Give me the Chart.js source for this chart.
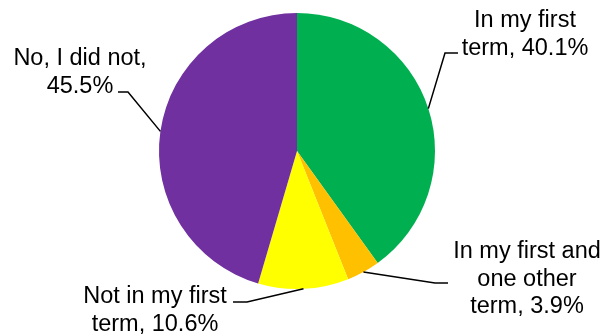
<!DOCTYPE html>
<html>
<head>
<meta charset="utf-8">
<script src="https://cdn.jsdelivr.net/npm/chart.js@4/dist/chart.umd.min.js"></script>
<style>
  html, body { margin: 0; padding: 0; background: #fff; }
  #wrap { width: 605px; height: 334px; }
</style>
</head>
<body>
<div id="wrap"><canvas id="pie"></canvas></div>
<script>
// data
const categories = ['In my first term', 'In my first and one other term', 'Not in my first term', 'No, I did not'];
const percents = [40.1, 3.9, 10.6, 45.5];
const sliceColors = ['#00B050', '#FFC000', '#FFFF00', '#7030A0'];
// label text split over lines, the value goes at the end of the last line
const labelLines = [
  ['In my first', 'term, '],
  ['In my first and', 'one other', 'term, '],
  ['Not in my first', 'term, '],
  ['No, I did not,', '']
];

// where each callout sits: text centre x, first baseline y, elbow, end of the short horizontal tick
const callouts = [
  {tx: 525, ty: 27, elbow: [445, 53], tick: [458, 53]},
  {tx: 527, ty: 258, elbow: [435, 283], tick: [448, 283]},
  {tx: 155, ty: 303, elbow: [247, 302], tick: [233, 302]},
  {tx: 80, ty: 65, elbow: [128, 92], tick: [118, 92]}
];

const calloutPlugin = {
  id: 'callouts',
  afterDatasetsDraw(chart) {
    const ctx = chart.ctx;
    const arcs = chart.getDatasetMeta(0).data;
    ctx.save();
    arcs.forEach(function(arc, i) {
      const p = arc.getProps(['x', 'y', 'startAngle', 'endAngle', 'outerRadius'], true);
      const mid = (p.startAngle + p.endAngle) / 2;
      const ex = p.x + Math.cos(mid) * p.outerRadius;
      const ey = p.y + Math.sin(mid) * p.outerRadius;
      const c = callouts[i];
      ctx.strokeStyle = '#000';
      ctx.lineWidth = 1.5;
      ctx.beginPath();
      ctx.moveTo(ex, ey);
      ctx.lineTo(c.elbow[0], c.elbow[1]);
      ctx.lineTo(c.tick[0], c.tick[1]);
      ctx.stroke();

      ctx.fillStyle = '#000';
      ctx.font = '23.5px "Liberation Sans", Arial, sans-serif';
      ctx.textAlign = 'center';
      ctx.textBaseline = 'alphabetic';
      const lines = labelLines[i].slice();
      lines[lines.length - 1] += percents[i].toFixed(1) + '%';
      lines.forEach(function(t, k) {
        ctx.fillText(t, c.tx, c.ty + k * 27.5);
      });
    });
    ctx.restore();
  }
};

new Chart(document.getElementById('pie'), {
  type: 'pie',
  data: {
    labels: categories,
    datasets: [{
      data: percents,
      backgroundColor: sliceColors,
      borderWidth: 0
    }]
  },
  options: {
    responsive: true,
    maintainAspectRatio: false,
    animation: false,
    layout: { padding: { top: 13, bottom: 45, left: 0, right: 11 } },
    plugins: {
      legend: { display: false },
      tooltip: { enabled: false }
    }
  },
  plugins: [calloutPlugin]
});
</script>
</body>
</html>
